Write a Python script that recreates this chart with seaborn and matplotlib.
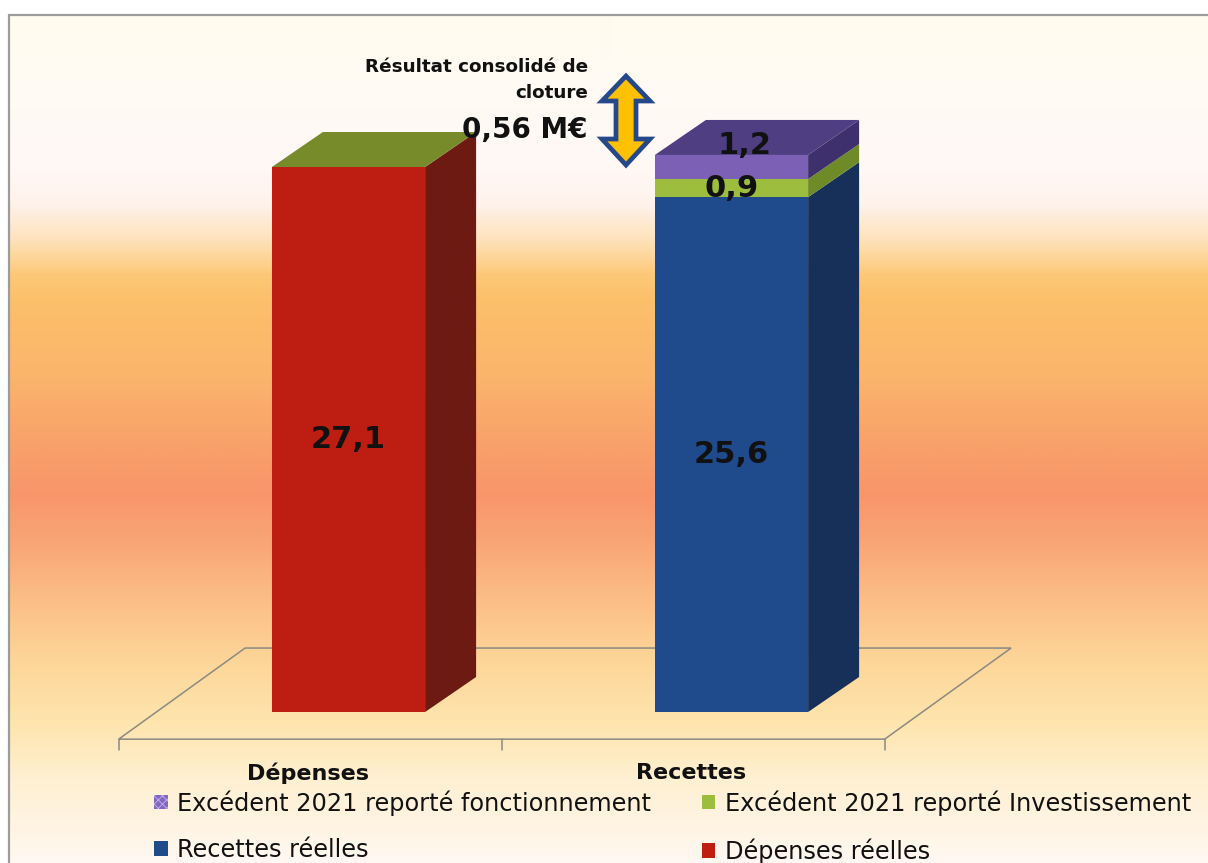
import numpy as np
import matplotlib
matplotlib.use("Agg")
import matplotlib.pyplot as plt
import seaborn as sns
from matplotlib.patches import Polygon, Patch
from matplotlib.colors import to_rgb

# ---- data (M€) ----
categories = ["Dépenses", "Recettes"]
depenses_reelles = [27.1, 0.0]
recettes_reelles = [0.0, 25.6]
excedent_investissement = [0.0, 0.9]
excedent_fonctionnement = [np.nan, 1.2]
resultat_title = "Résultat consolidé de\ncloture"
resultat_value = "0,56 M€"

series = [
    ("Dépenses réelles", depenses_reelles),
    ("Recettes réelles", recettes_reelles),
    ("Excédent 2021 reporté Investissement", excedent_investissement),
    ("Excédent 2021 reporté fonctionnement", excedent_fonctionnement),
]

# ---- styling ----
front = {
    "Dépenses réelles": "#BE1D12",
    "Recettes réelles": "#1F4A8B",
    "Excédent 2021 reporté Investissement": "#9DBD3E",
    "Excédent 2021 reporté fonctionnement": "#7C60B6",
}
side = {
    "Dépenses réelles": "#6C1A12",
    "Recettes réelles": "#16305A",
    "Excédent 2021 reporté Investissement": "#6F8B27",
    "Excédent 2021 reporté fonctionnement": "#3E306C",
}
top = {
    "Dépenses réelles": "#8E1A10",
    "Recettes réelles": "#2A4A7E",
    "Excédent 2021 reporté Investissement": "#778B2B",
    "Excédent 2021 reporté fonctionnement": "#4F3E82",
}
label_shift = {"Excédent 2021 reporté fonctionnement": (0.035, 1.05)}

W, H = 1208, 863
sns.set_theme(style="white")
plt.rcParams["font.family"] = ["DejaVu Sans"]
plt.rcParams["hatch.linewidth"] = 0.6

fig = plt.figure(figsize=(W / 100, H / 100), dpi=100)
fig.patch.set_facecolor("white")


def px(x, y):
    return x / W, 1 - y / H


# ---- background gradient inside the chart frame ----
stops = [
    (15, "#FFFBEE"), (80, "#FFFBF4"), (170, "#FFF8F6"), (205, "#FFF2EA"),
    (240, "#FEE2BC"), (275, "#FDC978"), (300, "#FCC06A"), (380, "#FBB46C"),
    (440, "#F9A26A"), (495, "#F8966A"), (540, "#F9A475"), (600, "#FBBE86"),
    (660, "#FDD598"), (720, "#FEE4AC"), (780, "#FFF0D2"), (863, "#FFF8F2"),
]
ys = np.arange(15, H + 1)
sy = [s[0] for s in stops]
rgb = np.array([to_rgb(s[1]) for s in stops])
grad = np.stack([np.interp(ys, sy, rgb[:, c]) for c in range(3)], axis=1)
bg = fig.add_axes([0, 0, 1, 1], zorder=0)
bg.imshow(grad[:, None, :], extent=(9, W, H, 15), aspect="auto", interpolation="bilinear")
bg.set_xlim(0, W)
bg.set_ylim(H, 0)
bg.plot([9, W], [15, 15], color="#9C9C9C", lw=1.6)
bg.plot([9, 9], [15, H], color="#9C9C9C", lw=1.6)
bg.axis("off")

# ---- main chart axes ----
ax = fig.add_axes([0, 0, 1, 1], zorder=1)
ax.patch.set_alpha(0)

X_CENTER0, PX_PER_CAT = 348.5, 383.0
Y_BASE, PX_PER_UNIT = 712.0, 20.11
DX, DY = 51 / PX_PER_CAT, 35 / PX_PER_UNIT
BAR_W = 0.4

# floor of the 3-D plot area
fx0, fx1, fy = -0.6, 1.4, -1.35
fdx, fdy = 0.33, 4.53
floor = Polygon([(fx0, fy), (fx1, fy), (fx1 + fdx, fy + fdy), (fx0 + fdx, fy + fdy)],
                closed=True, facecolor="none", edgecolor="#8A8A82", lw=1.1, zorder=1)
ax.add_patch(floor)
for tx in (fx0, (fx0 + fx1) / 2, fx1):
    ax.plot([tx, tx], [fy, fy - 0.55], color="#8A8A82", lw=1.1, zorder=1)

# stacked front faces through seaborn, then the 3-D side and top faces
bottom = np.zeros(len(categories))
seg_info = []
for name, vals in series:
    vals = np.asarray(vals, dtype=float)
    h = np.nan_to_num(vals)
    sns.barplot(x=categories, y=h, order=categories, color=front[name], width=BAR_W,
                bottom=bottom.copy(), saturation=1, linewidth=0, errorbar=None,
                ax=ax, zorder=3)
    rects = ax.containers[-1].patches
    for i, r in enumerate(rects):
        if np.isnan(vals[i]):
            continue
        x0, w, b, hh = r.get_x(), r.get_width(), r.get_y(), r.get_height()
        xr = x0 + w
        ax.add_patch(Polygon([(xr, b), (xr + DX, b + DY), (xr + DX, b + hh + DY), (xr, b + hh)],
                             closed=True, facecolor=side[name], edgecolor="none", zorder=2))
        seg_info.append((i, name, x0, w, b, hh, vals[i]))
    bottom = bottom + h

# top face of each stack: the last segment present in the stack
for i in range(len(categories)):
    segs = [s for s in seg_info if s[0] == i]
    _, name, x0, w, b, hh, _ = segs[-1]
    t = b + hh
    ax.add_patch(Polygon([(x0, t), (x0 + DX, t + DY), (x0 + w + DX, t + DY), (x0 + w, t)],
                         closed=True, facecolor=top[name], edgecolor="none", zorder=2))

# value labels
for i, name, x0, w, b, hh, v in seg_info:
    if v <= 0:
        continue
    sx, sy_ = label_shift.get(name, (0, 0))
    ax.text(x0 + w / 2 + sx, b + hh / 2 + sy_, f"{v:.1f}".replace(".", ","),
            ha="center", va="center", fontsize=22, fontweight="bold", color="#111111", zorder=5)

# category labels on the floor front edge
for i, cat in enumerate(categories):
    ax.text(i - 0.105, -3.05, cat, ha="center", va="center", fontsize=16,
            fontweight="bold", color="#111111")

ax.set_xlim(-X_CENTER0 / PX_PER_CAT, (W - X_CENTER0) / PX_PER_CAT)
ax.set_ylim(-(H - Y_BASE) / PX_PER_UNIT, Y_BASE / PX_PER_UNIT)
ax.axis("off")

# ---- consolidated result annotation ----
fig.text(*px(588, 80), resultat_title, ha="right", va="center", fontsize=13.2,
         fontweight="bold", color="#111111", linespacing=1.5)
fig.text(*px(588, 130), resultat_value, ha="right", va="center", fontsize=20,
         fontweight="bold", color="#111111")

cx = 626
arrow_pts = [(cx, 76), (cx - 24, 101), (cx - 10, 101), (cx - 10, 139), (cx - 24, 139),
             (cx, 165), (cx + 24, 139), (cx + 10, 139), (cx + 10, 101), (cx + 24, 101)]
fig.patches.append(Polygon([px(*p) for p in arrow_pts], closed=True, transform=fig.transFigure,
                           facecolor="#FFC000", edgecolor="#24488A", lw=3.4,
                           joinstyle="miter", zorder=6))

# ---- legend ----
order = ["Excédent 2021 reporté fonctionnement", "Recettes réelles",
         "Excédent 2021 reporté Investissement", "Dépenses réelles"]
handles = []
for name in order:
    if name == "Excédent 2021 reporté fonctionnement":
        handles.append(Patch(facecolor="#8466C4", edgecolor="#C3B4E8", hatch="xxxx",
                             lw=0, label=name))
    else:
        handles.append(Patch(facecolor=front[name], edgecolor="none", label=name))
leg = fig.legend(handles=handles, ncol=2, loc="upper left",
                 bbox_to_anchor=px(154, 790), frameon=False, fontsize=17.3,
                 handlelength=0.58, handleheight=0.58, handletextpad=0.38,
                 columnspacing=2.1, labelspacing=0.95, borderpad=0, borderaxespad=0)
for t in leg.get_texts():
    t.set_color("#111111")

fig.savefig("out.png", dpi=100)
